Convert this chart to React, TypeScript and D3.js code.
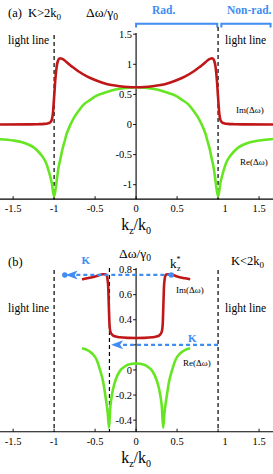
import React from "react";
import * as d3 from "d3";

// ---------- data ----------
const xTicks = [-1.5, -1, -0.5, 0, 0.5, 1, 1.5];
const xTickLabels = ["-1.5", "-1", "-0.5", "0", "0.5", "1", "1.5"];
const yTicksA = [-1, -0.5, 0, 0.5, 1, 1.5];
const yTickLabelsA = ["-1", "-0.5", "0", "0.5", "1", "1.5"];
const yTicksB = [-0.4, -0.2, 0, 0.2, 0.4, 0.6, 0.8];
const yTickLabelsB = ["-0.4", "-0.2", "0", "", "0.4", "0.6", "0.8"];

// panel (a): K > 2k0
const kzImA = [-1.66, -1.3, -1.2, -1.12, -1.08, -1.05, -1.03, -1.015, -1.0, -0.985, -0.97, -0.95, -0.93, -0.9, -0.85, -0.8, -0.75, -0.7, -0.6, -0.5, -0.4, -0.3, -0.2, -0.1, 0, 0.1, 0.2, 0.3, 0.4, 0.5, 0.6, 0.7, 0.75, 0.8, 0.85, 0.9, 0.93, 0.95, 0.97, 0.985, 1.0, 1.015, 1.03, 1.05, 1.08, 1.12, 1.2, 1.3, 1.67];
const imA = [0, 0.002, 0.005, 0.01, 0.018, 0.035, 0.07, 0.18, 0.45, 0.75, 0.95, 1.07, 1.1, 1.09, 1.04, 0.98, 0.93, 0.88, 0.8, 0.74, 0.69, 0.655, 0.635, 0.623, 0.62, 0.623, 0.635, 0.655, 0.69, 0.74, 0.8, 0.88, 0.93, 0.98, 1.04, 1.09, 1.1, 1.07, 0.95, 0.75, 0.45, 0.18, 0.07, 0.035, 0.018, 0.01, 0.005, 0.002, 0];
const kzReA = [-1.66, -1.5, -1.4, -1.3, -1.25, -1.2, -1.15, -1.1, -1.06, -1.03, -1.0, -0.97, -0.95, -0.92, -0.9, -0.87, -0.85, -0.8, -0.75, -0.7, -0.64, -0.56, -0.48, -0.4, -0.3, -0.2, -0.1, 0, 0.1, 0.2, 0.3, 0.4, 0.48, 0.56, 0.64, 0.7, 0.75, 0.8, 0.85, 0.87, 0.9, 0.92, 0.95, 0.97, 1.0, 1.03, 1.06, 1.1, 1.15, 1.2, 1.25, 1.3, 1.4, 1.5, 1.67];
const reA = [-0.245, -0.265, -0.29, -0.34, -0.38, -0.44, -0.52, -0.63, -0.8, -0.96, -1.2, -0.95, -0.75, -0.55, -0.42, -0.27, -0.17, 0.0, 0.13, 0.23, 0.33, 0.41, 0.48, 0.52, 0.565, 0.595, 0.613, 0.62, 0.613, 0.595, 0.565, 0.52, 0.48, 0.41, 0.33, 0.23, 0.13, 0.0, -0.17, -0.27, -0.42, -0.55, -0.75, -0.95, -1.2, -0.96, -0.8, -0.63, -0.52, -0.44, -0.38, -0.34, -0.29, -0.265, -0.24];

// panel (b): K < 2k0
const kzImB = [-0.66, -0.6, -0.5, -0.45, -0.41, -0.38, -0.36, -0.35, -0.34, -0.335, -0.33, -0.326, -0.32, -0.31, -0.29, -0.26, -0.2, -0.1, 0, 0.1, 0.2, 0.26, 0.29, 0.31, 0.32, 0.326, 0.33, 0.335, 0.34, 0.35, 0.36, 0.38, 0.41, 0.45, 0.5, 0.6, 0.66];
const imB = [0.722, 0.73, 0.745, 0.755, 0.762, 0.762, 0.755, 0.73, 0.66, 0.56, 0.46, 0.38, 0.33, 0.3, 0.28, 0.268, 0.26, 0.256, 0.255, 0.256, 0.26, 0.268, 0.28, 0.3, 0.33, 0.38, 0.46, 0.56, 0.66, 0.73, 0.755, 0.762, 0.762, 0.757, 0.745, 0.73, 0.722];
const kzReB = [-0.66, -0.6, -0.54, -0.48, -0.44, -0.4, -0.378, -0.36, -0.345, -0.33, -0.315, -0.3, -0.28, -0.25, -0.2, -0.15, -0.1, 0, 0.1, 0.15, 0.2, 0.25, 0.28, 0.3, 0.315, 0.33, 0.345, 0.36, 0.378, 0.4, 0.44, 0.48, 0.54, 0.6, 0.66];
const reB = [0.173, 0.16, 0.133, 0.08, 0.0, -0.1, -0.19, -0.27, -0.35, -0.46, -0.3, -0.22, -0.15, -0.08, -0.01, 0.022, 0.042, 0.052, 0.042, 0.022, -0.01, -0.08, -0.15, -0.22, -0.3, -0.46, -0.35, -0.27, -0.19, -0.1, 0.0, 0.08, 0.133, 0.16, 0.173];

// annotation data (kz / value)
const lightLinesA = [-1, 1];
const lightLinesB = [-1, 1, -0.325];
const kStarKz = 0.43;
const upperArrow = { from: kStarKz, to: -0.86, level: 0.757, dotLeft: -0.87 };
const lowerArrow = { from: 1.0, to: -0.305, level: 0.2 };

// ---------- styles ----------
const RED = "#c01818";
const GREEN = "#66e622";
const BLUE = "#3f8cf2";
const SERIF = "'Liberation Serif', 'Times New Roman', serif";

const W = 273;
const x = d3.scaleLinear().domain([-1.66, 1.67]).range([0, W]);
const yA = d3.scaleLinear().domain([-1.24, 1.55]).range([199.15, 31.2]);
const yB = d3.scaleLinear().domain([-0.492, 0.81]).range([431.7, 268.3]);

function path(kz: number[], v: number[], y: d3.ScaleLinear<number, number>) {
  const pts = kz.map((k, i) => [k, v[i]] as [number, number]);
  return d3
    .line<[number, number]>()
    .x((d) => x(d[0]))
    .y((d) => y(d[1]))
    .curve(d3.curveMonotoneX)(pts) as string;
}

function arrowHead(tx: number, ty: number) {
  return `M${tx},${ty} L${tx + 12},${ty - 4.5} L${tx + 9},${ty} L${tx + 12},${ty + 4.5} Z`;
}

function Axes({ y, yTicks, yLabels, yTop }: any) {
  const x0 = x(0);
  const yAxis = y.range()[0];
  return (
    <g>
      <line x1={0} x2={W} y1={yAxis} y2={yAxis} stroke="#000" strokeWidth={1.1} />
      <line x1={x0} x2={x0} y1={yTop} y2={yAxis} stroke="#000" strokeWidth={1.1} />
      {xTicks.map((t, i) => (
        <g key={"xt" + i}>
          <line x1={x(t)} x2={x(t)} y1={yAxis} y2={yAxis - 3} stroke="#000" strokeWidth={0.9} />
          <text
            x={x(t) + (t === 1 ? 7 : 0)}
            y={yAxis + 13}
            fontSize={10.5}
            textAnchor="middle"
            fontFamily={SERIF}
          >
            {xTickLabels[i]}
          </text>
        </g>
      ))}
      {yTicks.map((t: number, i: number) => (
        <g key={"yt" + i}>
          <line x1={x0 - 3} x2={x0} y1={y(t)} y2={y(t)} stroke="#000" strokeWidth={0.9} />
          <text x={x0 - 4} y={y(t) + 3.6} fontSize={10.5} textAnchor="end" fontFamily={SERIF}>
            {yLabels[i]}
          </text>
        </g>
      ))}
      <text x={x0} y={yAxis + 31} fontSize={16} textAnchor="middle" fontFamily={SERIF}>
        k<tspan fontSize={10} dy={4}>z</tspan>
        <tspan dy={-4}>/k</tspan>
        <tspan fontSize={10} dy={4}>0</tspan>
      </text>
    </g>
  );
}

export default function App() {
  const dash = "4,3";
  return (
    <svg
      width={W}
      height={474}
      style={{ position: "absolute", left: 0, top: 0, background: "#fff" }}
      fontFamily={SERIF}
    >
      {/* ---------- panel (a) ---------- */}
      <text x={8} y={17} fontSize={12.5}>(a)</text>
      <text x={28} y={17} fontSize={12.5}>
        K&gt;2k<tspan fontSize={9} dy={3}>0</tspan>
      </text>
      <text x={86} y={17} fontSize={13.5}>
        Δω/γ<tspan fontSize={9.5} dy={3}>0</tspan>
      </text>
      <text x={152} y={14} fontSize={11.5} fontWeight="bold" fill={BLUE}>Rad.</text>
      <text x={227} y={14} fontSize={11.5} fontWeight="bold" fill={BLUE}>Non-rad.</text>
      <path
        d={`M${x(0)},27.5 V23.8 H${x(0.99)} V27.5 M${x(1.04)},27.5 V23.8 H${x(1.64)} V27.5`}
        fill="none"
        stroke={BLUE}
        strokeWidth={2}
      />
      <text x={8} y={44} fontSize={11.5}>light line</text>
      <text x={225} y={44} fontSize={11.5}>light line</text>
      {lightLinesA.map((k, i) => (
        <line
          key={"la" + i}
          x1={x(k)}
          x2={x(k)}
          y1={k > 0 ? 27 : 35}
          y2={yA.range()[0]}
          stroke="#000"
          strokeWidth={1.2}
          strokeDasharray={dash}
        />
      ))}
      <Axes y={yA} yTicks={yTicksA} yLabels={yTickLabelsA} yTop={33} />
      <path d={path(kzReA, reA, yA)} fill="none" stroke={GREEN} strokeWidth={2.6} />
      <path d={path(kzImA, imA, yA)} fill="none" stroke={RED} strokeWidth={2.6} />
      <text x={236} y={113} fontSize={9}>Im(Δω)</text>
      <text x={240} y={165} fontSize={9}>Re(Δω)</text>

      {/* ---------- panel (b) ---------- */}
      <text x={8} y={266} fontSize={12.5}>(b)</text>
      <text x={231} y={265} fontSize={12.5}>
        K&lt;2k<tspan fontSize={9} dy={3}>0</tspan>
      </text>
      <text x={119} y={258} fontSize={13.5}>
        Δω/γ<tspan fontSize={9.5} dy={3}>0</tspan>
      </text>
      <text x={170} y={268} fontSize={13}>
        k<tspan fontSize={8} dy={-6}>*</tspan>
        <tspan fontSize={8} dx={-3.5} dy={9}>z</tspan>
      </text>
      <text x={8} y={312} fontSize={11.5}>light line</text>
      <text x={225} y={312} fontSize={11.5}>light line</text>
      {lightLinesB.map((k, i) => (
        <line
          key={"lb" + i}
          x1={x(k)}
          x2={x(k)}
          y1={k === -0.325 ? 268 : 270}
          y2={yB.range()[0]}
          stroke="#000"
          strokeWidth={1.2}
          strokeDasharray={dash}
        />
      ))}
      <Axes y={yB} yTicks={yTicksB} yLabels={yTickLabelsB} yTop={268} />
      <path d={path(kzReB, reB, yB)} fill="none" stroke={GREEN} strokeWidth={2.6} />
      <path d={path(kzImB, imB, yB)} fill="none" stroke={RED} strokeWidth={2.6} />
      <text x={176} y={292.5} fontSize={9}>Im(Δω)</text>
      <text x={183} y={366} fontSize={9}>Re(Δω)</text>

      {/* blue arrows */}
      <line
        x1={x(upperArrow.from)}
        x2={x(upperArrow.to) + 10}
        y1={yB(upperArrow.level)}
        y2={yB(upperArrow.level)}
        stroke={BLUE}
        strokeWidth={2.2}
        strokeDasharray={dash}
      />
      <line
        x1={x(upperArrow.dotLeft)}
        x2={x(upperArrow.to)}
        y1={yB(upperArrow.level)}
        y2={yB(upperArrow.level)}
        stroke={BLUE}
        strokeWidth={2}
      />
      <path d={arrowHead(x(upperArrow.to), yB(upperArrow.level))} fill={BLUE} />
      <circle cx={x(upperArrow.dotLeft)} cy={yB(upperArrow.level)} r={2.7} fill={BLUE} />
      <circle cx={x(kStarKz)} cy={yB(upperArrow.level)} r={2.7} fill={BLUE} />
      <text x={81.5} y={263.5} fontSize={11} fontWeight="bold" fill={BLUE}>K</text>

      <line
        x1={x(lowerArrow.from)}
        x2={x(lowerArrow.to) + 11}
        y1={yB(lowerArrow.level)}
        y2={yB(lowerArrow.level)}
        stroke={BLUE}
        strokeWidth={2.2}
        strokeDasharray={dash}
      />
      <path d={arrowHead(x(lowerArrow.to), yB(lowerArrow.level))} fill={BLUE} />
      <text x={188} y={342} fontSize={11} fontWeight="bold" fill={BLUE}>K</text>
    </svg>
  );
}
